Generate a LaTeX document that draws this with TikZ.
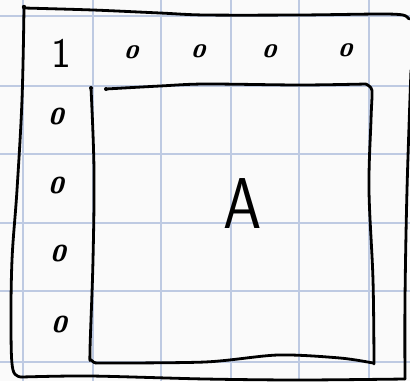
\documentclass[tikz,border=0pt]{standalone}
\definecolor{bg}{RGB}{250,250,250}
\definecolor{gridblue}{RGB}{190,202,226}
\begin{document}
\begin{tikzpicture}[x=1pt,y=-1pt,
  hand/.style={line width=2.8pt, line cap=round, line join=round},
  gridline/.style={draw=gridblue, line width=1.1pt},
  pendot/.style={fill=black},
  topzero/.style={font=\sffamily\bfseries\slshape\fontsize{18}{18}\selectfont, inner sep=0pt, xscale=1.4},
  leftzero/.style={font=\sffamily\bfseries\slshape\fontsize{23}{23}\selectfont, inner sep=0pt, xscale=1.2},
  bigtext/.style={font=\sffamily\fontsize{42}{42}\selectfont, inner sep=0pt}]
\fill[bg] (0,0) rectangle (410,381);
\useasboundingbox (0,0) rectangle (410,381);
% grid
\foreach \x in {23,93,161,231,299,369} \draw[gridline] (\x,0) -- (\x,381);
\foreach \y in {16,86,154,223,291,362} \draw[gridline] (0,\y) -- (410,\y);
% outer frame
\draw[hand] plot[smooth, tension=0.5] coordinates {(24,8) (93,10) (160,13) (205,15) (300,15) (380,14) (403,15) (409,19)};
\draw[hand] plot[smooth, tension=0.6] coordinates {(24,8) (22,100) (17,190) (12,260) (11,330) (13,370) (22,377)};
\draw[hand] plot[smooth, tension=0.5] coordinates {(22,377) (90,376) (205,379) (300,380) (405,379)};
\draw[hand] plot[smooth, tension=0.6] coordinates {(405,379) (405,300) (407,190) (411,70)};
\fill[pendot] (24,7) circle (2.2pt);
% inner frame
\draw[hand] plot[smooth, tension=0.6] coordinates {(91,88) (94,170) (93,260) (90,350) (91,360) (96,363)};
\draw[hand] plot[smooth, tension=0.5] coordinates {(96,363) (205,362) (278,355) (340,358) (373,363)};
\draw[hand] plot[smooth, tension=0.6] coordinates {(374,364) (373,280) (369,190) (371,120) (372,95) (371,88) (366,84)};
\draw[hand] plot[smooth, tension=0.5] coordinates {(366,84) (300,85) (205,84) (160,86) (106,89)};
\fill[pendot] (91,88) circle (2pt);
\fill[pendot] (106,89) circle (2pt);
% texts
\node[bigtext] (one) at (61,53) {1};
\node[topzero] (t1) at (131,52) {0};
\node[topzero] (t2) at (198,51) {0};
\node[topzero] (t3) at (269,51) {0};
\node[topzero] (t4) at (345,50) {0};
\node[leftzero] (l1) at (56,117) {0};
\node[leftzero] (l2) at (56,186) {0};
\node[leftzero] (l3) at (58,254) {0};
\node[leftzero] (l4) at (59,325) {0};
\node[bigtext, font=\sffamily\fontsize{72}{72}\selectfont, xscale=0.85] (A) at (243,204) {A};
\end{tikzpicture}
\end{document}
